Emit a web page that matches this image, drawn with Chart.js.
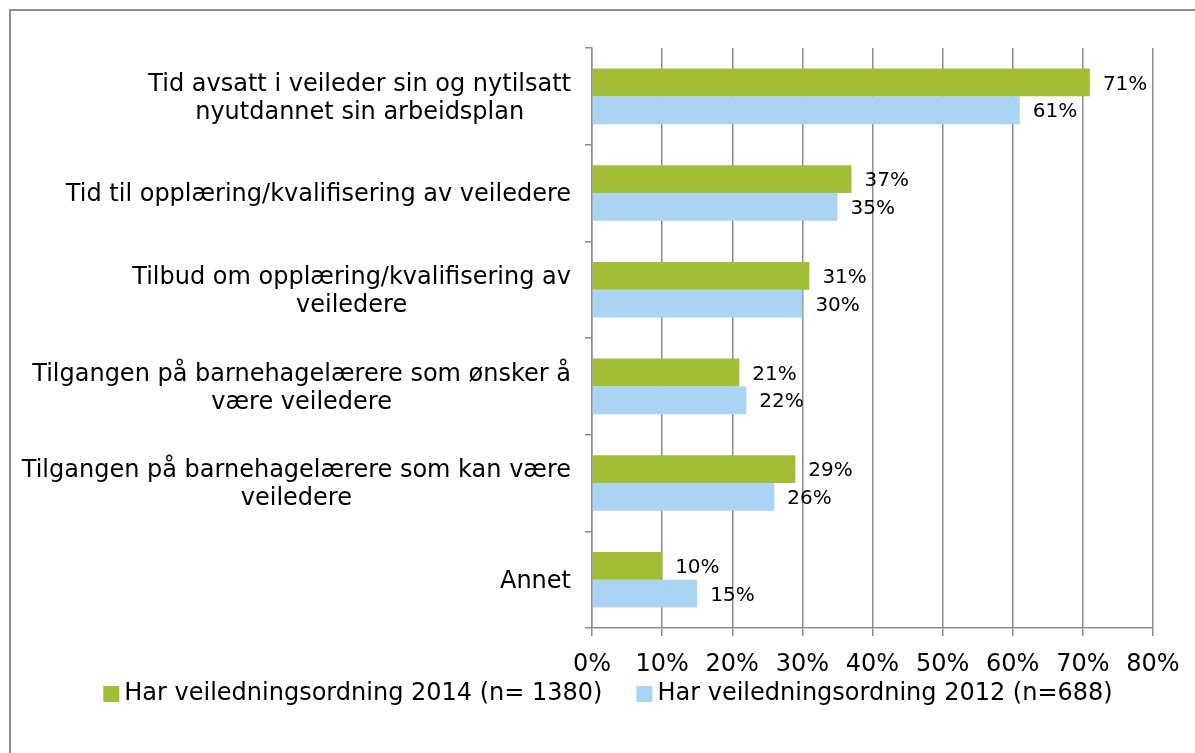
<!DOCTYPE html>
<html>
<head>
<meta charset="utf-8">
<script src="https://cdn.jsdelivr.net/npm/chart.js@4.4.1/dist/chart.umd.min.js"></script>
<style>
  html, body { margin: 0; padding: 0; background: #fff; }
  #wrap { position: relative; width: 1195px; height: 753px; overflow: hidden; }
  #frame { position: absolute; left: 9px; top: 9px; width: 1400px; height: 1000px;
           border-left: 2px solid #8e8e8e; border-top: 2px solid #8e8e8e; }
  canvas { position: absolute; left: 0; top: 0; }
</style>
</head>
<body>
<div id="wrap">
  <div id="frame"></div>
  <canvas id="myChart" width="1195" height="753"></canvas>
</div>
<script>
const categories = [
    ["Tid avsatt i veileder sin og nytilsatt", "nyutdannet sin arbeidsplan"],
    ["Tid til opplæring/kvalifisering av veiledere"],
    ["Tilbud om opplæring/kvalifisering av", "veiledere"],
    ["Tilgangen på barnehagelærere som ønsker å", "være veiledere"],
    ["Tilgangen på barnehagelærere som kan være", "veiledere"],
    ["Annet"],
];

const series_2014 = [71, 37, 31, 21, 29, 10];
const series_2012 = [61, 35, 30, 22, 26, 15];

const series_names = [
    "Har veiledningsordning 2014 (n= 1380)",
    "Har veiledningsordning 2012 (n=688)",
];

const x_ticks = [0, 10, 20, 30, 40, 50, 60, 70, 80];

const FONT = "'DejaVu Sans', Verdana, sans-serif";

// category labels: block right aligned, lines centered inside the block
const catLabels = {
    id: 'catLabels',
    afterDraw(chart) {
        const c = chart.ctx;
        const y = chart.scales.y;
        c.save();
        c.font = '24px ' + FONT;
        c.fillStyle = '#000';
        c.textAlign = 'center';
        c.textBaseline = 'middle';
        const lh = 28;
        categories.forEach((lines, i) => {
            const cy = y.getPixelForTick(i);
            const w = Math.max(...lines.map(l => c.measureText(l).width));
            const right = y.right - 21;
            const top = cy - (lines.length - 1) * lh / 2;
            lines.forEach((l, j) => c.fillText(l, right - w / 2, top + j * lh + 2));
        });
        c.restore();
    }
};

// value labels at the bar ends
const valueLabels = {
    id: 'valueLabels',
    afterDatasetsDraw(chart) {
        const c = chart.ctx;
        c.save();
        c.font = '20px ' + FONT;
        c.fillStyle = '#000';
        c.textAlign = 'left';
        c.textBaseline = 'middle';
        chart.data.datasets.forEach((ds, di) => {
            chart.getDatasetMeta(di).data.forEach((bar, i) => {
                c.fillText(ds.data[i] + '%', bar.x + 13, bar.y + 2);
            });
        });
        c.restore();
    }
};

// legend in the style of the original: small square, short gap, text
const bottomLegend = {
    id: 'bottomLegend',
    afterDraw(chart) {
        const c = chart.ctx;
        c.save();
        c.font = '24px ' + FONT;
        c.fillStyle = '#000';
        c.textBaseline = 'middle';
        const box = 16, gap = 5, between = 34, cy = 694;
        const items = chart.data.datasets.map(ds => ({
            text: ds.label, color: ds.backgroundColor,
            w: box + gap + c.measureText(ds.label).width,
        }));
        const total = items.reduce((s, it) => s + it.w, 0) + between * (items.length - 1);
        let x = 608 - total / 2;
        items.forEach(it => {
            c.fillStyle = it.color;
            c.fillRect(x, cy - box / 2, box, box);
            c.fillStyle = '#000';
            c.textAlign = 'left';
            c.fillText(it.text, x + box + gap, cy);
            x += it.w + between;
        });
        c.restore();
    }
};

const data = {
    labels: categories.map(l => l.join(' ')),
    datasets: [{
        label: series_names[0],
        data: series_2014,
        backgroundColor: '#a2be37',
        borderWidth: 0,
    }, {
        label: series_names[1],
        data: series_2012,
        backgroundColor: '#a9d4f4',
        borderWidth: 0,
    }],
};

const config = {
    type: 'bar',
    data: data,
    options: {
        indexAxis: 'y',
        responsive: false,
        animation: false,
        layout: {
            padding: { top: 48, right: 42, left: 0, bottom: 82 },
        },
        datasets: {
            bar: {
                categoryPercentage: 0.575,
                barPercentage: 1.0,
            },
        },
        scales: {
            x: {
                min: 0,
                max: 80,
                afterBuildTicks: (s) => { s.ticks = x_ticks.map(v => ({ value: v })); },
                afterFit: (s) => { s.height = 43; },
                grid: {
                    color: '#8c8c8c',
                    lineWidth: 1.5,
                    tickLength: 8,
                },
                border: { color: '#8c8c8c', width: 1.5 },
                ticks: {
                    color: '#000',
                    padding: 14,
                    font: { family: FONT, size: 24 },
                    callback: (v) => v + '%',
                },
            },
            y: {
                afterFit: (s) => { s.width = 592; },
                grid: {
                    drawOnChartArea: false,
                    color: '#8c8c8c',
                    lineWidth: 1.5,
                    tickLength: 7,
                },
                border: { color: '#8c8c8c', width: 1.5 },
                ticks: { display: false },
            },
        },
        plugins: {
            legend: { display: false },
            tooltip: { enabled: false },
        },
    },
    plugins: [catLabels, valueLabels, bottomLegend],
};

const myChart = new Chart(document.getElementById('myChart').getContext('2d'), config);
</script>
</body>
</html>
